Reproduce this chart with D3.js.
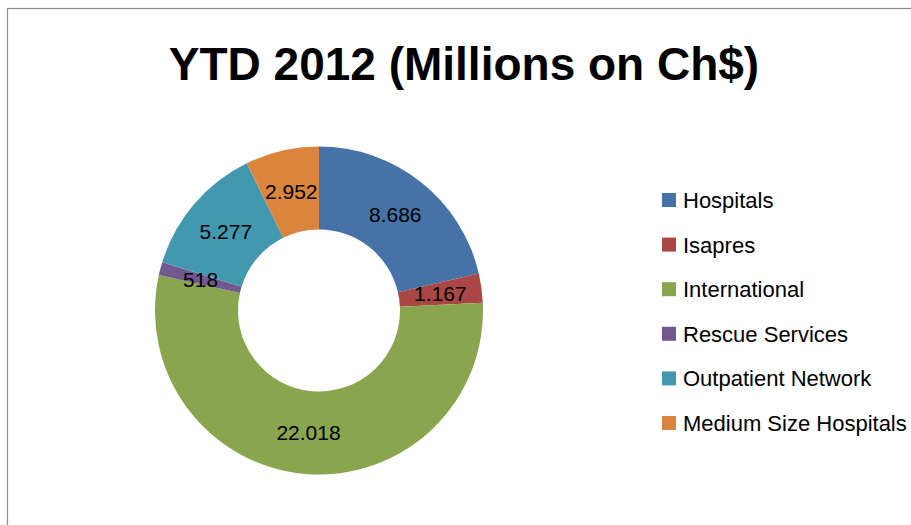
<!DOCTYPE html>
<head>
  <meta charset="utf-8">
  <script src="https://d3js.org/d3.v7.min.js"></script>
  <style>
    body {
      margin: 0;
      background: #fff;
      font-family: "Liberation Sans", Arial, sans-serif;
    }
    text {
      font-family: "Liberation Sans", Arial, sans-serif;
    }
  </style>
</head>
<body>
  <script>
    var categories = ["Hospitals", "Isapres", "International", "Rescue Services", "Outpatient Network", "Medium Size Hospitals"];
    var values = [8686, 1167, 22018, 518, 5277, 2952];
    var valueLabels = ["8.686", "1.167", "22.018", "518", "5.277", "2.952"];
    var colors = ["#4572A7", "#AA4643", "#89A54E", "#71588F", "#4198AF", "#DB843D"];

    var width = 911, height = 525;
    var cx = 319, cy = 310.5, outerR = 164, innerR = 81;

    var svg = d3.select("body").append("svg")
      .attr("width", width)
      .attr("height", height);

    // chart frame (runs off the right and bottom edges)
    svg.append("rect")
      .attr("x", 7.5)
      .attr("y", 8.5)
      .attr("width", width + 20)
      .attr("height", height + 20)
      .attr("fill", "none")
      .attr("stroke", "#8c8c8c")
      .attr("stroke-width", 1.2);

    svg.append("text")
      .attr("x", 464)
      .attr("y", 80)
      .attr("text-anchor", "middle")
      .style("font-size", "46px")
      .style("font-weight", "bold")
      .text("YTD 2012 (Millions on Ch$)");

    var data = categories.map(function (c, i) {
      return { name: c, value: values[i], label: valueLabels[i], color: colors[i] };
    });

    var pie = d3.pie().sort(null).value(function (d) { return d.value; });
    var arc = d3.arc().innerRadius(innerR).outerRadius(outerR);

    var g = svg.append("g")
      .attr("transform", "translate(" + cx + "," + cy + ")");

    var arcs = pie(data);

    g.selectAll(".slice")
      .data(arcs)
      .enter().append("path")
      .attr("class", "slice")
      .attr("d", arc)
      .attr("fill", function (d) { return d.data.color; });

    g.selectAll(".label")
      .data(arcs)
      .enter().append("text")
      .attr("class", "label")
      .attr("x", function (d) { return arc.centroid(d)[0]; })
      .attr("y", function (d) { return arc.centroid(d)[1]; })
      .attr("dy", "0.36em")
      .attr("text-anchor", "middle")
      .style("font-size", "21px")
      .style("fill", "#000")
      .text(function (d) { return d.data.label; });

    // legend
    var legend = svg.append("g")
      .attr("transform", "translate(662,200)");

    var row = legend.selectAll(".row")
      .data(data)
      .enter().append("g")
      .attr("class", "row")
      .attr("transform", function (d, i) { return "translate(0," + (i * 44.6) + ")"; });

    row.append("rect")
      .attr("x", 0)
      .attr("y", -7)
      .attr("width", 14)
      .attr("height", 14)
      .attr("fill", function (d) { return d.color; });

    row.append("text")
      .attr("x", 21)
      .attr("y", 0)
      .attr("dy", "0.36em")
      .style("font-size", "22px")
      .style("fill", "#000")
      .text(function (d) { return d.name; });
  </script>
</body>
